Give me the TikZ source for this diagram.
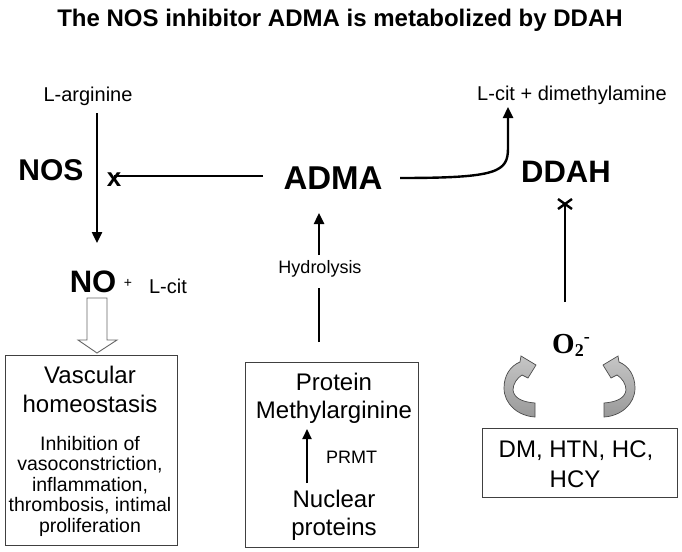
\documentclass[tikz,border=0pt]{standalone}
\usepackage{fontspec}
\setmainfont{Liberation Sans}
\newfontfamily\serifbf{Liberation Serif}
\usetikzlibrary{arrows.meta,calc}
\newcommand\fsz[1]{\fontsize{#1pt}{#1pt}\selectfont}
\begin{document}
\begin{tikzpicture}[x=1pt,y=-1pt,
  txt/.style={inner sep=0pt, anchor=base},
  bigb/.style={txt, font=\fsz{30}\bfseries},
  lbl/.style={txt, font=\fsz{20}},
  boxtxt/.style={txt, font=\fsz{24}},
  smalltxt/.style={txt, font=\fsz{19.5}},
  conn/.style={line width=2.4pt},
  arr/.style={line width=2.4pt, -{Triangle[length=11pt,width=10pt]}},
  boxstyle/.style={draw=black!75, line width=1pt, inner sep=0pt, anchor=north west},
  circarr/.pic={
    \shade[top color=gray!45, bottom color=gray!80, draw=black!70, line width=0.7pt]
      (535,417) -- (535,403)
      .. controls (522,402) and (514,398) .. (513,390)
      .. controls (513,384) and (517,378) .. (522,375)
      -- (528,378) -- (536,365) -- (521,356) -- (520,362)
      .. controls (510,366) and (504,376) .. (504,388)
      .. controls (504,404) and (518,416) .. (535,417) -- cycle;
  }]
\useasboundingbox (0,0) rectangle (682,551);

% title
\node[txt, font=\fsz{24}\bfseries] (title) at (340,27) {The NOS inhibitor ADMA is metabolized by DDAH};

% top row
\node[lbl] (larg) at (88,101) {L-arginine};
\node[bigb] (nos) at (51,180) {NOS};
\node[txt, font=\fsz{26}\bfseries] (xmark) at (114,186) {x};
\node[txt, font=\fsz{33}\bfseries] (adma) at (333,189) {ADMA};
\node[txt, font=\fsz{31}\bfseries] (ddah) at (566,182) {DDAH};
\node[lbl] (lcitdm) at (572,100) {L-cit + dimethylamine};

% NO row
\node[txt, font=\fsz{31}\bfseries] (no) at (93,292) {NO};
\node[txt, font=\fsz{14}] (plus) at (128,287) {+};
\node[lbl] (lcit) at (168,293) {L-cit};

\node[txt, font=\fsz{18}] (hydro) at (320,273) {Hydrolysis};

% O2-
\node[txt, font=\serifbf\bfseries\fsz{29}] (o2) at (571,353)
  {O\raisebox{-0.25ex}{\fsz{18}2}\raisebox{0.8ex}{\fsz{18}-}};

% boxes
\node[boxstyle, minimum width=172, minimum height=190] (box1) at (5,355) {};
\node[boxtxt] (vasc) at (90,383) {Vascular};
\node[boxtxt] (homeo) at (90,412) {homeostasis};
\node[smalltxt] (l1) at (90,450) {Inhibition of};
\node[smalltxt] (l2) at (90,470.5) {vasoconstriction,};
\node[smalltxt] (l3) at (90,491) {inflammation,};
\node[smalltxt] (l4) at (90,511.5) {thrombosis, intimal};
\node[smalltxt] (l5) at (90,532) {proliferation};

\node[boxstyle, minimum width=173, minimum height=185] (box2) at (245,362) {};
\node[boxtxt] (prot) at (334,390) {Protein};
\node[boxtxt] (methyl) at (334,418) {Methylarginine};
\node[txt, font=\fsz{18}, anchor=base west] (prmt) at (326,463) {PRMT};
\node[boxtxt] (nuc) at (334,507) {Nuclear};
\node[boxtxt] (nprot) at (334,535) {proteins};

\node[boxstyle, minimum width=195, minimum height=69] (box3) at (482,428) {};
\node[boxtxt] (dm) at (576,457) {DM, HTN, HC,};
\node[boxtxt] (hcy) at (575,487) {HCY};

% connectors
\coordinate (nosTop) at (97,113);
\coordinate (nosBot) at (97,243);
\draw[arr] (nosTop) -- (nosBot);

\coordinate (inhA) at (263,176);
\draw[conn] (inhA) -- (xmark.center |- inhA);

\coordinate (admaR) at (400,178);
\coordinate (lcitB) at (508,107);
\draw[arr] (admaR) .. controls (498,178) and (508,172) .. (508,148) -- (lcitB);

\coordinate (hydBot) at (319,342);
\coordinate (hydTop) at (319,213);
\draw[conn] (hydBot) -- (319,288);
\draw[arr] (319,255) -- (hydTop);

\coordinate (prmtBot) at (307,483);
\coordinate (prmtTop) at (307,429);
\draw[line width=2.2pt, -{Triangle[length=10pt,width=9pt]}] (prmtBot) -- (prmtTop);

\coordinate (o2top) at (565,302);
\coordinate (ddahX) at (565,204);
\draw[conn] (o2top) -- (ddahX);
\draw[conn] ($(ddahX)+(-7,-5)$) -- ($(ddahX)+(7,5)$);
\draw[conn] ($(ddahX)+(-7,5)$) -- ($(ddahX)+(7,-5)$);

% hollow arrow NO -> box1
\draw[draw=black!60, line width=0.9pt, fill=white]
  (87,298) -- (107,298) -- (107,340) -- (117,340) -- (97,353) -- (78,340) -- (87,340) -- cycle;

% circular arrows
\pic at (0,0) {circarr};
\pic[xscale=-1] at (1139,0) {circarr};
\end{tikzpicture}
\end{document}
